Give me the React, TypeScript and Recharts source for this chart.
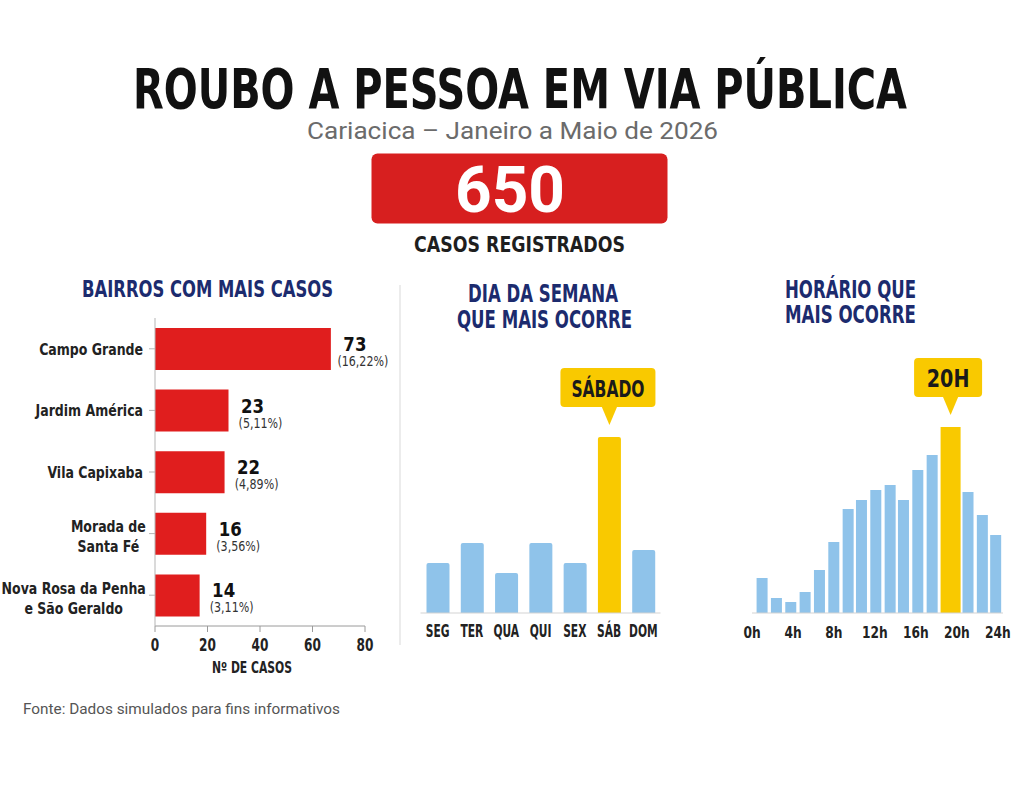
import React from 'react';
import { BarChart, Bar, XAxis, YAxis, Cell, LabelList } from 'recharts';

// bairros com mais casos
const bairros = ['Campo Grande', 'Jardim América', 'Vila Capixaba', 'Morada de\nSanta Fé', 'Nova Rosa da Penha\ne São Geraldo'];
const casosBairro = [73, 23, 22, 16, 14];
const pctBairro = ['16,22%', '5,11%', '4,89%', '3,56%', '3,11%'];
// comprimento das barras como está desenhado no gráfico original
const barraBairro = [67, 28, 26.5, 19.5, 17];
const ticksCasos = [0, 20, 40, 60, 80];

// dia da semana
const dias = ['SEG', 'TER', 'QUA', 'QUI', 'SEX', 'SÁB', 'DOM'];
const valorDia = [50, 70, 40, 70, 50, 176, 63];
const destaqueDia = 5;

// horário: posição de cada barra no eixo de horas
const horaBarra = [1.0, 2.4, 3.8, 5.2, 6.6, 8.0, 9.4, 10.7, 12.1, 13.5, 14.8, 16.2, 17.6, 19.4, 21.1, 22.5, 23.8];
const valorHora = [35, 15, 11, 21, 43, 71, 104, 113, 123, 128, 113, 143, 158, 186, 121, 98, 78];
const destaqueHora = 13;
const ticksHora = [0, 4, 8, 12, 16, 20, 24];

const NARROW = "'DejaVu Sans Condensed', 'DejaVu Sans', sans-serif";
const REG = "Roboto, 'Liberation Sans', sans-serif";
const VERMELHO = '#e01e1e';
const AZUL = '#8fc3ea';
const AMARELO = '#f9c900';
const NAVY = '#1c2b6e';

const dadosBairros = bairros.map((nome, i) => ({ nome, barra: barraBairro[i] }));
const dadosDias = dias.map((dia, i) => ({ dia, valor: valorDia[i] }));
const dadosHora = horaBarra.map((hora, i) => ({ hora, valor: valorHora[i] }));

// texto "condensado": fonte normal espremida na horizontal
function Cond({ x, y, s, size, weight = 700, fill = '#222', anchor = 'middle', children }: any) {
  return (
    <text
      transform={`translate(${x},${y}) scale(${s},1)`}
      textAnchor={anchor}
      fontSize={size}
      fontWeight={weight}
      fontFamily={NARROW}
      fill={fill}
    >
      {children}
    </text>
  );
}

function TickEixo(props: any) {
  const { x, y, payload, dy, s, size, sufixo } = props;
  return (
    <Cond x={x} y={y + dy} s={s} size={size}>
      {payload.value}
      {sufixo || ''}
    </Cond>
  );
}

function TickBairro(props: any) {
  const { y, payload } = props;
  const linhas = String(payload.value).split('\n');
  const dir = 143;
  if (linhas.length === 1) {
    return <Cond x={dir} y={y + 6} s={0.87} size={16} anchor="end">{linhas[0]}</Cond>;
  }
  const maior = Math.max(...linhas.map((l) => l.length));
  const cx = dir - (maior * 7.7) / 2;
  return (
    <g>
      {linhas.map((l, i) => (
        <Cond key={i} x={cx} y={y - 1.5 + i * 20} s={0.87} size={16}>{l}</Cond>
      ))}
    </g>
  );
}

function RotuloBairro(props: any) {
  const { x, y, width, height, index } = props;
  const fim = x + width;
  const cy = y + height / 2;
  return (
    <g>
      <Cond x={fim + 24} y={cy + 2} s={0.92} size={20} fill="#111">{casosBairro[index]}</Cond>
      <Cond x={fim + 32} y={cy + 17} s={0.88} size={14} weight={400} fill="#333">({pctBairro[index]})</Cond>
    </g>
  );
}

function Balao(props: any) {
  const { x, y, width, index, alvo, texto, largura, fonte, dx, s } = props;
  if (index !== alvo) return null;
  const cx = x + width / 2;
  const bx = cx + (dx || 0);
  const base = y - 30;
  const topo = base - 39;
  return (
    <g>
      <rect x={bx - largura / 2} y={topo} width={largura} height={39} rx={4} fill={AMARELO} />
      <path d={`M${cx - 8},${base - 1} L${cx + 8},${base - 1} L${cx},${y - 12} Z`} fill={AMARELO} />
      <Cond x={bx} y={topo + 29} s={s} size={fonte} fill="#1a1a1a">{texto}</Cond>
    </g>
  );
}

function BarraHora(props: any) {
  const { x, y, width, height, index } = props;
  const d = index === destaqueHora;
  const w = d ? 20 : width;
  const cx = x + width / 2;
  return <rect x={cx - w / 2} y={y} width={w} height={height} fill={d ? AMARELO : AZUL} />;
}

function Cabecalho() {
  return (
    <svg width={1024} height={801} style={{ position: 'absolute', left: 0, top: 0 }}>
      <text x={133} y={108} fontSize={56} fontWeight={700} fontFamily={NARROW} fill="#111" textLength={774} lengthAdjust="spacingAndGlyphs">
        ROUBO A PESSOA EM VIA PÚBLICA
      </text>
      <text x={307} y={139} fontSize={23} fontFamily={REG} fill="#6b6b6b" textLength={411} lengthAdjust="spacingAndGlyphs">
        Cariacica – Janeiro a Maio de 2026
      </text>
      <rect x={371.5} y={153.5} width={296} height={70} rx={6} fill="#d71f1f" />
      <text x={455} y={211.5} fontSize={64} fontWeight={700} fontFamily={REG} fill="#fff" textLength={110} lengthAdjust="spacingAndGlyphs">
        650
      </text>
      <text x={414} y={251.5} fontSize={21} fontWeight={700} fontFamily={NARROW} fill="#1e1e1e" textLength={211} lengthAdjust="spacingAndGlyphs">
        CASOS REGISTRADOS
      </text>
      <text x={82} y={297} fontSize={23} fontWeight={700} fontFamily={NARROW} fill={NAVY} textLength={251} lengthAdjust="spacingAndGlyphs">
        BAIRROS COM MAIS CASOS
      </text>
      <text x={468} y={302} fontSize={25} fontWeight={700} fontFamily={NARROW} fill={NAVY} textLength={150} lengthAdjust="spacingAndGlyphs">
        DIA DA SEMANA
      </text>
      <text x={457} y={328} fontSize={25} fontWeight={700} fontFamily={NARROW} fill={NAVY} textLength={175} lengthAdjust="spacingAndGlyphs">
        QUE MAIS OCORRE
      </text>
      <text x={785} y={298} fontSize={24} fontWeight={700} fontFamily={NARROW} fill={NAVY} textLength={131} lengthAdjust="spacingAndGlyphs">
        HORÁRIO QUE
      </text>
      <text x={785} y={323} fontSize={24} fontWeight={700} fontFamily={NARROW} fill={NAVY} textLength={131} lengthAdjust="spacingAndGlyphs">
        MAIS OCORRE
      </text>
      <text x={212} y={672.5} fontSize={15} fontWeight={700} fontFamily={NARROW} fill="#222" textLength={80} lengthAdjust="spacingAndGlyphs">
        Nº DE CASOS
      </text>
      <text x={23} y={714} fontSize={15} fontFamily={REG} fill="#555" textLength={317} lengthAdjust="spacingAndGlyphs">
        Fonte: Dados simulados para fins informativos
      </text>
      <line x1={400} y1={285} x2={400} y2={645} stroke="#e6e6e6" strokeWidth={1.5} />
    </svg>
  );
}

export default function App() {
  return (
    <div style={{ position: 'absolute', left: 0, top: 0, width: 1024, height: 801, background: '#fff', overflow: 'hidden' }}>
      <Cabecalho />

      <div style={{ position: 'absolute', left: 0, top: 300 }}>
        <BarChart layout="vertical" width={400} height={390} data={dadosBairros} margin={{ top: 18, right: 35, bottom: 34, left: 0 }}>
          <XAxis
            type="number"
            domain={[0, 80]}
            ticks={ticksCasos}
            height={30}
            stroke="#9a9a9a"
            tickSize={6}
            tick={<TickEixo dy={16.5} s={0.75} size={18} />}
          />
          <YAxis type="category" dataKey="nome" width={155} stroke="#b5b5b5" tick={<TickBairro />} interval={0} />
          <Bar dataKey="barra" fill={VERMELHO} barSize={42} isAnimationActive={false}>
            <LabelList content={<RotuloBairro />} />
          </Bar>
        </BarChart>
      </div>

      <div style={{ position: 'absolute', left: 400, top: 350 }}>
        <BarChart width={280} height={298} data={dadosDias} margin={{ top: 83, right: 19.5, bottom: 5, left: 20.5 }}>
          <XAxis
            dataKey="dia"
            height={30}
            interval={0}
            tickLine={false}
            stroke="#d3d3d3"
            tick={<TickEixo dy={15.5} s={0.7} size={17} />}
          />
          <YAxis hide domain={[0, 180]} />
          <Bar dataKey="valor" barSize={23} radius={[2, 2, 0, 0]} isAnimationActive={false}>
            {dadosDias.map((_, i) => (
              <Cell key={i} fill={i === destaqueDia ? AMARELO : AZUL} />
            ))}
            <LabelList content={<Balao alvo={destaqueDia} texto="SÁBADO" largura={95} fonte={23} dx={-1.5} s={0.75} />} />
          </Bar>
        </BarChart>
      </div>

      <div style={{ position: 'absolute', left: 700, top: 320 }}>
        <BarChart width={324} height={328} data={dadosHora} margin={{ top: 93, right: 21, bottom: 5, left: 52 }}>
          <XAxis
            dataKey="hora"
            type="number"
            domain={[0, 24.5]}
            allowDataOverflow
            ticks={ticksHora}
            height={30}
            tickLine={false}
            stroke="#d3d3d3"
            tick={<TickEixo dy={17} s={0.85} size={16} sufixo="h" />}
          />
          <YAxis hide domain={[0, 200]} />
          <Bar dataKey="valor" barSize={11} shape={<BarraHora />} isAnimationActive={false}>
            <LabelList content={<Balao alvo={destaqueHora} texto="20H" largura={68} fonte={25} dx={-2.5} s={0.85} />} />
          </Bar>
        </BarChart>
      </div>
    </div>
  );
}
